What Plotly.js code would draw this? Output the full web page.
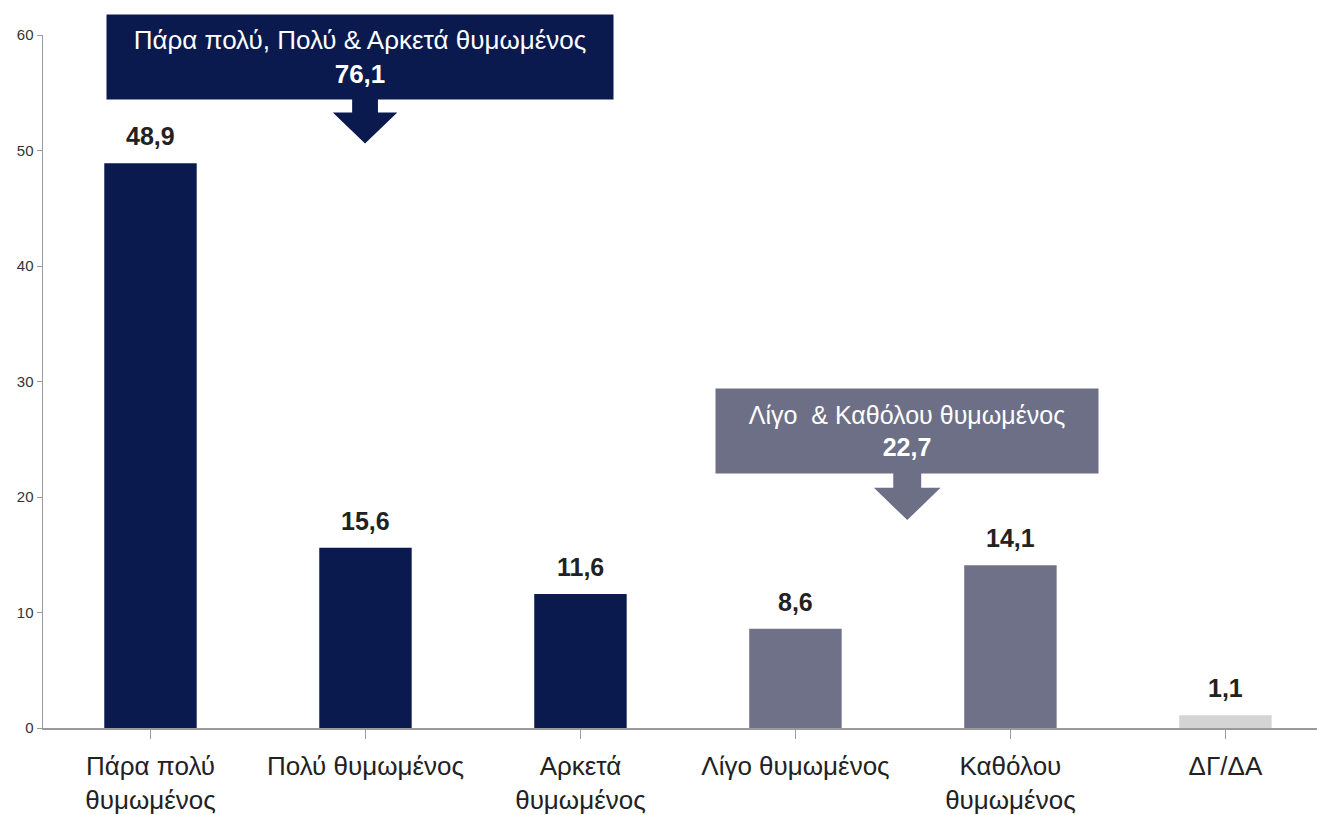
<!DOCTYPE html>
<html>
<head>
<meta charset="utf-8">
<script src="https://cdn.plot.ly/plotly-3.0.1.min.js"></script>
<style>
  html, body { margin: 0; padding: 0; background: #fff; }
  #plot { width: 1317px; height: 815px; }
</style>
</head>
<body>
<div id="plot"></div>
<script>
// categories and values
const categories = ['Πάρα πολύ<br>θυμωμένος', 'Πολύ θυμωμένος', 'Αρκετά<br>θυμωμένος',
                    'Λίγο θυμωμένος', 'Καθόλου<br>θυμωμένος', 'ΔΓ/ΔΑ'];
const values = [48.9, 15.6, 11.6, 8.6, 14.1, 1.1];
const valueLabels = ['48,9', '15,6', '11,6', '8,6', '14,1', '1,1'];
const barColors = ['#0b1a4e', '#0b1a4e', '#0b1a4e', '#6f7189', '#6f7189', '#d4d4d4'];

const groupTitles = ['Πάρα πολύ, Πολύ & Αρκετά θυμωμένος', 'Λίγο  & Καθόλου θυμωμένος'];
const groupTotals = ['76,1', '22,7'];

const narrow = '"Liberation Sans Narrow", "Liberation Sans", Arial, sans-serif';
const xIdx = categories.map((c, i) => i);

const trace = {
  type: 'bar',
  x: xIdx,
  y: values,
  width: 0.43,
  marker: { color: barColors },
  hoverinfo: 'none'
};

// value labels above each bar
const valueAnns = values.map((v, i) => ({
  x: i, y: v, xref: 'x', yref: 'y',
  text: valueLabels[i], showarrow: false,
  yanchor: 'bottom', yshift: 11,
  font: { family: narrow, size: 25, color: '#222', weight: 'bold' }
}));

// grouped total callouts
const boxAnns = [
  { x: 0.974, y: 58.1, w: 504, h: 82, fill: '#0b1a4e', size: 26, i: 0 },
  { x: 3.52, y: 25.7, w: 380, h: 82, fill: '#6c6f86', size: 25, i: 1 }
].map(b => ({
  x: b.x, y: b.y, xref: 'x', yref: 'y',
  text: groupTitles[b.i] + '<br><b>' + groupTotals[b.i] + '</b>',
  showarrow: false, width: b.w, height: b.h,
  bgcolor: b.fill, align: 'center', valign: 'middle',
  font: { family: narrow, size: b.size, color: '#fff' }
}));

// block arrows below the callouts
function arrow(cx, top, mid, tip, shaftHalf, headHalf) {
  return 'M' + (cx - shaftHalf) + ',' + top + ' L' + (cx + shaftHalf) + ',' + top +
    ' L' + (cx + shaftHalf) + ',' + mid + ' L' + (cx + headHalf) + ',' + mid +
    ' L' + cx + ',' + tip + ' L' + (cx - headHalf) + ',' + mid +
    ' L' + (cx - shaftHalf) + ',' + mid + ' Z';
}

const shapes = [
  { type: 'path', xref: 'x', yref: 'y', path: arrow(0.998, 54.5, 53.3, 50.6, 0.06, 0.15),
    fillcolor: '#0b1a4e', line: { width: 0 } },
  { type: 'path', xref: 'x', yref: 'y', path: arrow(3.52, 22.1, 20.8, 18.0, 0.065, 0.155),
    fillcolor: '#6c6f86', line: { width: 0 } }
];

const layout = {
  width: 1317, height: 815,
  margin: { l: 43, r: 0, t: 35, b: 87 },
  paper_bgcolor: '#fff', plot_bgcolor: '#fff',
  showlegend: false,
  xaxis: {
    range: [-0.5, 5.426],
    tickvals: xIdx, ticktext: categories,
    tickson: 'boundaries', ticks: 'outside', ticklen: 9, tickcolor: '#9a9a9a',
    ticklabelstandoff: 5,
    showline: true, linecolor: '#9a9a9a', linewidth: 1.5,
    showgrid: false, zeroline: false,
    tickfont: { family: narrow, size: 26, color: '#222' }
  },
  yaxis: {
    range: [0, 60],
    tickvals: [0, 10, 20, 30, 40, 50, 60],
    ticks: 'outside', ticklen: 5, tickcolor: '#9a9a9a',
    showline: true, linecolor: '#9a9a9a', linewidth: 1.5,
    showgrid: false, zeroline: false,
    tickfont: { family: narrow, size: 15, color: '#333' }
  },
  annotations: valueAnns.concat(boxAnns),
  shapes: shapes
};

Plotly.newPlot('plot', [trace], layout, { displayModeBar: false, staticPlot: true });
</script>
</body>
</html>
